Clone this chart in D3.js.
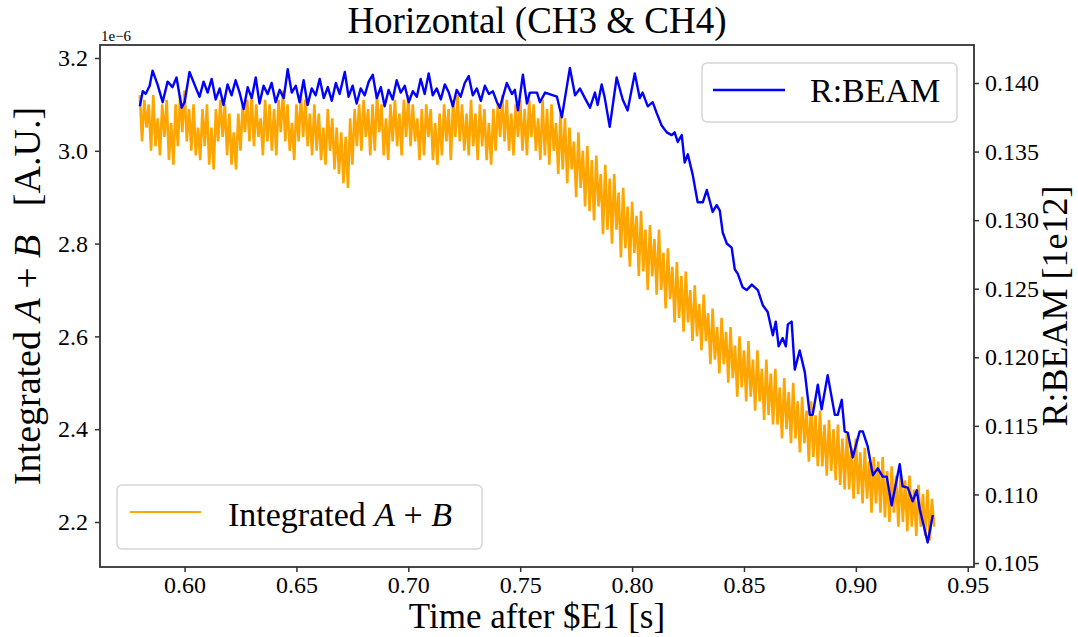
<!DOCTYPE html>
<html>
<head>
<meta charset="utf-8">
<script src="https://cdn.jsdelivr.net/npm/d3@7/dist/d3.min.js"></script>
<style>
  html, body { margin: 0; padding: 0; background: #fff; }
  svg { display: block; }
  text { font-family: "Liberation Serif", "Times New Roman", serif; fill: #000; }
</style>
</head>
<body>
<svg id="chart" width="1078" height="637"></svg>
<script>
// ---------------- data ----------------
const xTicks = [0.60, 0.65, 0.70, 0.75, 0.80, 0.85, 0.90, 0.95];
const leftTicks = [2.2, 2.4, 2.6, 2.8, 3.0, 3.2];
const rightTicks = [0.105, 0.110, 0.115, 0.120, 0.125, 0.130, 0.135, 0.140];
const xLimits = [0.5622, 0.9528];
const leftLimits = [2.103, 3.228];      // units of 1e-6
const rightLimits = [0.10471, 0.14277];

// Integrated A+B (units of 1e-6), sampled every 1 ms from 0.580 s
const orangeStart = 0.580, orangeStep = 0.001;
const orangeValues = [
  3.12,3.02,3.11,3.05,3.10,3.00,3.12,3.01,3.07,2.99,
  3.10,3.03,3.11,2.98,3.06,2.97,3.10,3.01,3.12,3.04,
  3.13,3.02,3.09,3.00,3.10,2.99,3.05,2.98,3.09,3.01,
  3.10,2.97,3.05,2.96,3.09,3.02,3.11,3.03,3.10,2.99,
  3.08,2.97,3.04,2.96,3.08,3.00,3.10,3.04,3.11,3.02,
  3.12,3.01,3.10,3.03,3.07,2.99,3.11,3.02,3.10,3.00,
  3.09,2.99,3.11,3.04,3.13,3.02,3.10,3.00,3.06,2.98,
  3.10,3.02,3.12,3.03,3.11,3.01,3.08,2.99,3.10,3.00,
  3.08,2.98,3.05,2.97,3.09,3.00,3.07,2.96,3.05,2.95,
  3.04,2.93,3.03,2.92,3.07,2.97,3.09,3.01,3.10,3.00,
  3.11,3.03,3.09,2.99,3.10,3.00,3.12,3.04,3.10,2.99,
  3.07,2.98,3.10,3.02,3.11,3.01,3.08,2.99,3.11,3.03,
  3.12,3.01,3.10,3.02,3.07,2.98,3.09,2.99,3.10,3.03,
  3.09,2.98,3.06,2.97,3.08,2.99,3.10,3.02,3.09,2.98,
  3.11,3.03,3.12,3.02,3.10,3.00,3.08,2.99,3.11,3.01,
  3.08,2.98,3.10,3.01,3.09,2.98,3.06,2.97,3.09,3.00,
  3.10,3.03,3.12,3.02,3.11,3.00,3.08,2.99,3.10,3.03,
  3.11,3.00,3.09,2.99,3.11,3.03,3.10,3.00,3.07,2.98,
  3.11,2.99,3.09,2.97,3.10,3.00,3.06,2.95,3.08,2.96,
  3.07,2.93,3.05,2.96,3.02,2.90,3.04,2.92,3.00,2.88,
  3.01,2.87,2.98,2.85,2.99,2.88,2.95,2.82,2.97,2.83,
  2.94,2.80,2.95,2.83,2.91,2.77,2.92,2.79,2.88,2.75,
  2.89,2.78,2.86,2.73,2.87,2.74,2.83,2.70,2.84,2.73,
  2.81,2.69,2.83,2.70,2.78,2.66,2.79,2.68,2.75,2.63,
  2.76,2.64,2.73,2.61,2.74,2.63,2.70,2.59,2.71,2.60,
  2.67,2.57,2.69,2.59,2.65,2.54,2.66,2.55,2.62,2.52,
  2.64,2.54,2.61,2.50,2.62,2.51,2.58,2.47,2.60,2.49,
  2.57,2.46,2.59,2.47,2.55,2.44,2.57,2.46,2.53,2.42,
  2.55,2.43,2.52,2.41,2.53,2.41,2.49,2.38,2.51,2.40,
  2.48,2.37,2.50,2.38,2.46,2.35,2.47,2.37,2.44,2.33,
  2.46,2.34,2.43,2.32,2.44,2.32,2.41,2.30,2.42,2.31,
  2.40,2.29,2.41,2.28,2.38,2.27,2.39,2.27,2.36,2.25,
  2.38,2.26,2.35,2.24,2.36,2.25,2.33,2.22,2.34,2.24,
  2.33,2.22,2.34,2.21,2.31,2.20,2.32,2.22,2.30,2.19,
  2.31,2.20,2.29,2.18,2.30,2.19,2.27,2.17,2.28,2.19,
  2.26,2.17,2.27,2.16,2.25,2.19
];

// R:BEAM [1e12]
const blueTime = [
  0.5800,0.5813,0.5826,0.5844,0.5857,0.5879,0.5902,0.5924,0.5946,0.5964,0.5987,0.6000,0.6022,0.6054,
  0.6067,0.6085,0.6103,0.6121,0.6139,0.6157,0.6174,0.6192,0.6210,0.6228,0.6246,0.6264,0.6282,0.6300,
  0.6318,0.6335,0.6353,0.6371,0.6389,0.6407,0.6425,0.6443,0.6461,0.6479,0.6497,0.6514,0.6532,0.6550,
  0.6568,0.6586,0.6604,0.6622,0.6640,0.6658,0.6676,0.6693,0.6716,0.6733,0.6751,0.6769,0.6787,0.6805,
  0.6823,0.6841,0.6859,0.6877,0.6894,0.6912,0.6930,0.6948,0.6966,0.6984,0.7002,0.7020,0.7038,0.7055,
  0.7073,0.7091,0.7109,0.7127,0.7145,0.7163,0.7181,0.7199,0.7216,0.7234,0.7252,0.7270,0.7288,0.7306,
  0.7324,0.7342,0.7360,0.7378,0.7396,
  0.7409,0.7440,0.7463,0.7476,0.7490,0.7512,0.7530,0.7543,0.7575,0.7588,0.7611,0.7664,0.7686,0.7722,
  0.7745,0.7767,0.7789,0.7812,0.7834,0.7846,0.7864,0.7878,0.7900,0.7931,0.7958,0.7980,0.8012,0.8034,
  0.8047,0.8070,0.8092,0.8110,0.8132,0.8155,0.8177,0.8190,0.8204,0.8222,0.8235,0.8249,0.8271,0.8293,
  0.8316,0.8334,0.8360,0.8378,0.8392,0.8405,0.8423,0.8445,0.8459,0.8472,0.8494,0.8512,0.8535,0.8562,
  0.8584,0.8606,0.8629,0.8642,0.8655,0.8673,0.8687,0.8696,0.8713,0.8727,
  0.8749,0.8772,0.8794,0.8807,0.8830,0.8847,0.8874,0.8906,0.8919,0.8937,0.8950,0.8964,0.8986,0.9017,
  0.9031,0.9053,0.9076,0.9098,0.9120,0.9138,0.9160,0.9196,0.9209,0.9232,0.9254,0.9272,0.9286,0.9321,
  0.9344
];
const blueValue = [
  0.1383,0.1394,0.1392,0.1398,0.1409,0.1399,0.1386,0.1401,0.1397,0.1404,0.1382,0.1386,0.1408,0.1395,
  0.1390,0.1401,0.1393,0.1403,0.1388,0.1396,0.1384,0.1399,0.1391,0.1402,0.1393,0.1381,0.1397,0.1389,
  0.1404,0.1385,0.1398,0.1392,0.1400,0.1386,0.1395,0.1389,0.1410,0.1393,0.1398,0.1386,0.1402,0.1384,
  0.1396,0.1391,0.1403,0.1389,0.1397,0.1387,0.1400,0.1392,0.1408,0.1390,0.1398,0.1385,0.1396,0.1391,
  0.1401,0.1406,0.1389,0.1397,0.1383,0.1395,0.1388,0.1402,0.1393,0.1398,0.1386,0.1394,0.1390,0.1403,
  0.1392,0.1407,0.1391,0.1396,0.1388,0.1399,0.1393,0.1383,0.1395,0.1390,0.1400,0.1405,0.1391,0.1396,
  0.1387,0.1398,0.1392,0.1394,0.1386,
  0.1382,0.1400,0.1392,0.1395,0.1380,0.1406,0.1385,0.1393,0.1393,0.1386,0.1393,0.1390,0.1375,0.1411,
  0.1391,0.1396,0.1389,0.1382,0.1393,0.1384,0.1399,0.1389,0.1368,0.1404,0.1388,0.1380,0.1407,0.1389,
  0.1393,0.1383,0.1386,0.1378,0.1369,0.1364,0.1362,0.1364,0.1357,0.1362,0.1342,0.1348,0.1333,0.1313,
  0.1313,0.1322,0.1306,0.1311,0.1307,0.1291,0.1283,0.1280,0.1264,0.1261,0.1251,0.1249,0.1253,0.1249,
  0.1238,0.1233,0.1216,0.1226,0.1208,0.1214,0.1208,0.1224,0.1226,0.1191,
  0.1205,0.1189,0.1158,0.1158,0.1180,0.1162,0.1187,0.1158,0.1158,0.1169,0.1146,0.1145,0.1127,0.1146,
  0.1146,0.1135,0.1114,0.1119,0.1113,0.1113,0.1092,0.1122,0.1106,0.1105,0.1095,0.1103,0.1089,0.1065,
  0.1085
];

// ---------------- drawing ----------------
const svg = d3.select("#chart");
const L = 100, R = 974, T = 45, B = 567;
const x = d3.scaleLinear().domain(xLimits).range([L, R]);
const yL = d3.scaleLinear().domain(leftLimits).range([B, T]);
const yR = d3.scaleLinear().domain(rightLimits).range([B, T]);

svg.append("clipPath").attr("id", "plotclip")
  .append("rect").attr("x", L).attr("y", T).attr("width", R - L).attr("height", B - T);

const orangeData = orangeValues.map((v, i) => [orangeStart + i * orangeStep, v]);
const blueData = blueTime.map((t, i) => [t, blueValue[i]]);

const plot = svg.append("g").attr("clip-path", "url(#plotclip)");
plot.append("path")
  .attr("d", d3.line().x(d => x(d[0])).y(d => yL(d[1]))(orangeData))
  .attr("fill", "none").attr("stroke", "#ffa500").attr("stroke-width", 2.6)
  .attr("stroke-linejoin", "miter").attr("stroke-miterlimit", 2);

// legend lower-left (belongs to first axes)
const lg1 = svg.append("g");
lg1.append("rect").attr("x", 117).attr("y", 485).attr("width", 365).attr("height", 64)
  .attr("rx", 5).attr("fill", "#fff").attr("fill-opacity", 0.8)
  .attr("stroke", "#d5d5d5").attr("stroke-width", 1.5);
lg1.append("line").attr("x1", 130).attr("x2", 201).attr("y1", 512).attr("y2", 512)
  .attr("stroke", "#ffa500").attr("stroke-width", 2.2);
const lt1 = lg1.append("text").attr("x", 228).attr("y", 526).attr("font-size", 34);
lt1.append("tspan").text("Integrated ");
lt1.append("tspan").attr("font-style", "italic").text("A");
lt1.append("tspan").text("\u00a0+\u00a0");
lt1.append("tspan").attr("font-style", "italic").text("B");

const plot2 = svg.append("g").attr("clip-path", "url(#plotclip)");
plot2.append("path")
  .attr("d", d3.line().x(d => x(d[0])).y(d => yR(d[1]))(blueData))
  .attr("fill", "none").attr("stroke", "#0000ff").attr("stroke-width", 2.4)
  .attr("stroke-linejoin", "round");

// spines
svg.append("rect").attr("x", L).attr("y", T).attr("width", R - L).attr("height", B - T)
  .attr("fill", "none").attr("stroke", "#333").attr("stroke-width", 1.8);

function styleAxis(g) {
  g.select(".domain").remove();
  g.selectAll(".tick line").attr("stroke", "#333").attr("stroke-width", 1.5);
  g.selectAll(".tick text").attr("font-size", 24).attr("fill", "#000")
    .attr("font-family", "Liberation Serif, serif");
}
svg.append("g").attr("transform", `translate(0,${B})`)
  .call(d3.axisBottom(x).tickValues(xTicks).tickFormat(d3.format(".2f")).tickSize(5).tickPadding(4))
  .call(styleAxis);
svg.append("g").attr("transform", `translate(${L},0)`)
  .call(d3.axisLeft(yL).tickValues(leftTicks).tickFormat(d3.format(".1f")).tickSize(5).tickPadding(7))
  .call(styleAxis);
svg.append("g").attr("transform", `translate(${R},0)`)
  .call(d3.axisRight(yR).tickValues(rightTicks).tickFormat(d3.format(".3f")).tickSize(5).tickPadding(6))
  .call(styleAxis);

// legend upper-right
const lg2 = svg.append("g");
lg2.append("rect").attr("x", 702).attr("y", 63).attr("width", 255).attr("height", 59)
  .attr("rx", 5).attr("fill", "#fff").attr("fill-opacity", 0.8)
  .attr("stroke", "#d5d5d5").attr("stroke-width", 1.5);
lg2.append("line").attr("x1", 713).attr("x2", 785).attr("y1", 90).attr("y2", 90)
  .attr("stroke", "#0000ff").attr("stroke-width", 2.4);
lg2.append("text").attr("x", 810).attr("y", 102).attr("font-size", 34).text("R:BEAM");

// offset text
svg.append("text").attr("x", 101).attr("y", 41).attr("font-size", 15).text("1e\u22126");

// title
svg.append("text").attr("x", (L + R) / 2).attr("y", 33).attr("text-anchor", "middle")
  .attr("font-size", 37).text("Horizontal (CH3 & CH4)");

// x label
svg.append("text").attr("x", (L + R) / 2).attr("y", 628).attr("text-anchor", "middle")
  .attr("font-size", 35).text("Time after $E1 [s]");

// left y label
const yl = svg.append("text").attr("transform", `translate(40,${(T + B) / 2 - 10}) rotate(-90)`)
  .attr("text-anchor", "middle").attr("font-size", 38);
yl.append("tspan").text("Integrated ");
yl.append("tspan").attr("font-style", "italic").text("A");
yl.append("tspan").text("\u00a0+\u00a0");
yl.append("tspan").attr("font-style", "italic").text("B");
yl.append("tspan").text("\u00a0\u00a0\u00a0[A.U.]");

// right y label
svg.append("text").attr("transform", `translate(1067,${(T + B) / 2}) rotate(-90)`)
  .attr("text-anchor", "middle").attr("font-size", 36).text("R:BEAM [1e12]");
</script>
</body>
</html>
